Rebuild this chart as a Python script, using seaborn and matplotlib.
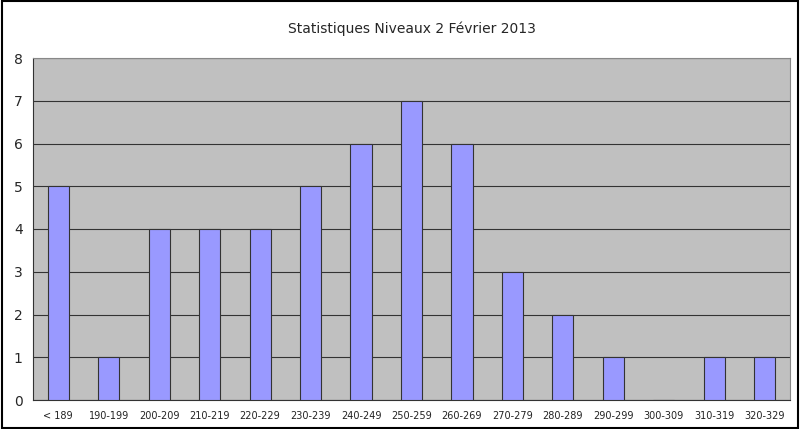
import numpy as np
import pandas as pd
import matplotlib
matplotlib.use("Agg")
import matplotlib.pyplot as plt
import seaborn as sns

categories = ["< 189", "190-199", "200-209", "210-219", "220-229", "230-239", "240-249",
              "250-259", "260-269", "270-279", "280-289", "290-299", "300-309", "310-319", "320-329"]
counts = [5, 1, 4, 4, 4, 5, 6, 7, 6, 3, 2, 1, 0, 1, 1]

df = pd.DataFrame({"cat": categories, "n": counts})

sns.set_style("white")
plt.rcParams["font.family"] = ["DejaVu Sans"]

fig = plt.figure(figsize=(8, 4.29), dpi=100)
ax = fig.add_axes([33 / 800, 29 / 429, 757 / 800, 342 / 429])
ax.set_facecolor("#C0C0C0")
sns.barplot(data=df, x="cat", y="n", color="#9999FF", edgecolor="#333333",
            linewidth=0.8, width=0.42, saturation=1, ax=ax, zorder=3)
ax.set_ylim(0, 8)
ax.set_xlim(-0.5, len(categories) - 0.5)
ax.set_yticks(range(0, 9))
ax.yaxis.grid(True, color="#333333", linewidth=0.8, zorder=0)
ax.set_axisbelow(True)
ax.set_xlabel("")
ax.set_ylabel("")
ax.set_xticks(np.arange(-0.5, len(categories), 1), minor=False)
ax.set_xticklabels([])
ax.set_xticks(range(len(categories)), minor=True)
ax.set_xticklabels(categories, minor=True, fontsize=7, color="#222222")
ax.tick_params(axis="x", which="major", length=4, width=0.8, color="#333333", direction="out")
ax.tick_params(axis="x", which="minor", length=0, pad=8)
ax.tick_params(axis="y", length=4, width=0.8, color="#333333", direction="out", labelsize=10)
for s in ["top", "right"]:
    ax.spines[s].set_color("#888888")
for s in ["left", "bottom"]:
    ax.spines[s].set_color("#333333")
ax.set_title("Statistiques Niveaux 2 Février 2013", fontsize=10, pad=18)

fig.patches.append(plt.Rectangle((0.002, 0.003), 0.995, 0.994, transform=fig.transFigure,
                                 fill=False, edgecolor="black", linewidth=1.5))
fig.savefig("out.png", dpi=100)
